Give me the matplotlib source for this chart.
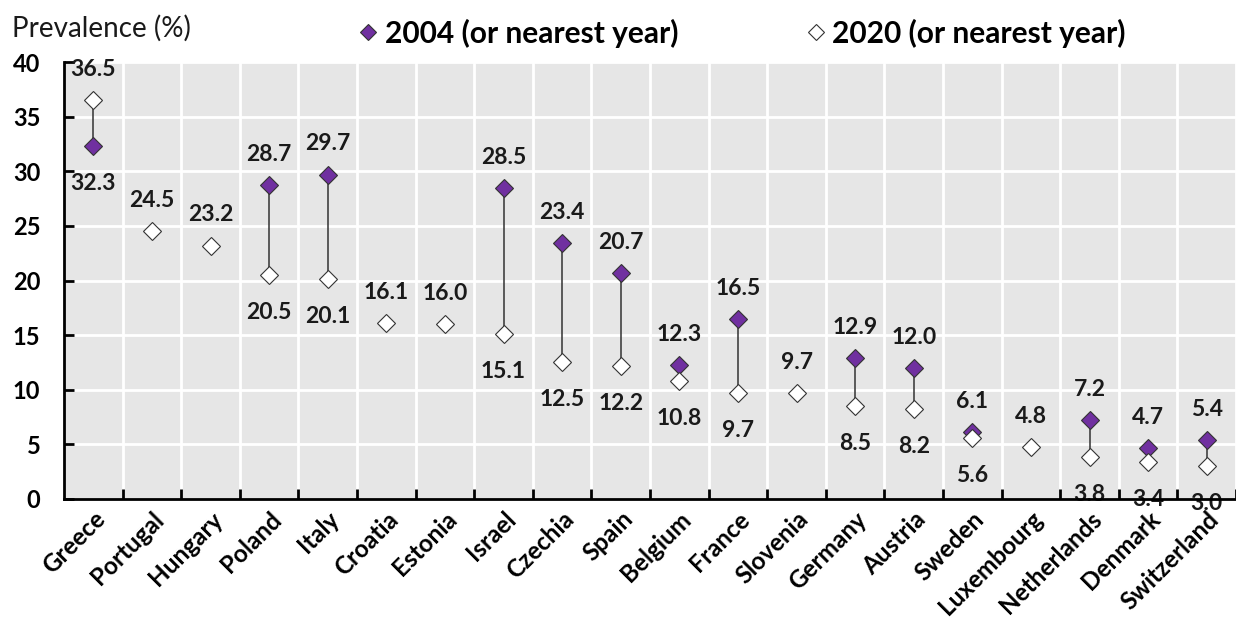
import matplotlib
matplotlib.use("Agg")
import matplotlib.pyplot as plt
import numpy as np

countries = ["Greece", "Portugal", "Hungary", "Poland", "Italy", "Croatia", "Estonia",
             "Israel", "Czechia", "Spain", "Belgium", "France", "Slovenia", "Germany",
             "Austria", "Sweden", "Luxembourg", "Netherlands", "Denmark", "Switzerland"]
v2004 = [32.3, None, None, 28.7, 29.7, None, None, 28.5, 23.4, 20.7, 12.3, 16.5, None,
         12.9, 12.0, 6.1, None, 7.2, 4.7, 5.4]
v2020 = [36.5, 24.5, 23.2, 20.5, 20.1, 16.1, 16.0, 15.1, 12.5, 12.2, 10.8, 9.7, 9.7,
         8.5, 8.2, 5.6, 4.8, 3.8, 3.4, 3.0]
yticks = [0, 5, 10, 15, 20, 25, 30, 35, 40]

FONT = "Lato"
plt.rcParams["font.family"] = [FONT, "DejaVu Sans"]

fig = plt.figure(figsize=(12.36, 6.23), dpi=100)
ax = fig.add_axes([64 / 1236, 1 - 499 / 623, 1 - 64 / 1236, (499 - 62) / 623])
ax.set_facecolor("#e6e6e6")

x = np.arange(len(countries))
purple = "#7030a0"
edge = "#333333"

# connectors
for i, (a, b) in enumerate(zip(v2004, v2020)):
    if a is not None:
        ax.plot([i, i], [min(a, b), max(a, b)], color="#333333", lw=1.1, zorder=2)

x04 = [i for i, a in enumerate(v2004) if a is not None]
y04 = [a for a in v2004 if a is not None]
l04, = ax.plot(x04, y04, linestyle="none", marker="D", markersize=9.5,
               markerfacecolor=purple, markeredgecolor=edge, markeredgewidth=0.8,
               zorder=3, label="2004 (or nearest year)")
l20, = ax.plot(x, v2020, linestyle="none", marker="D", markersize=9.5,
               markerfacecolor="white", markeredgecolor=edge, markeredgewidth=0.8,
               zorder=4, label="2020 (or nearest year)")

# value labels: higher value above, lower below
for i, (a, b) in enumerate(zip(v2004, v2020)):
    vals = [b] if a is None else [a, b]
    hi = max(vals)
    lo = min(vals)
    ax.annotate(f"{hi:.1f}", (i, hi), xytext=(0, 22), textcoords="offset points",
                ha="center", va="center", fontsize=16.5, fontweight="bold",
                color="#1a1a1a", zorder=5, annotation_clip=False)
    if len(vals) == 2:
        ax.annotate(f"{lo:.1f}", (i, lo), xytext=(0, -27), textcoords="offset points",
                    ha="center", va="center", fontsize=16.5, fontweight="bold",
                    color="#1a1a1a", zorder=5, annotation_clip=False)

ax.set_ylim(0, 40)
ax.set_xlim(-0.5, 19.33)
ax.set_yticks(yticks)
ax.set_yticklabels([str(t) for t in yticks], fontsize=17, fontweight="bold")
ax.set_xticks(x)
ax.set_xticklabels(countries, rotation=45, ha="right", rotation_mode="anchor",
                   fontsize=17.5, fontweight="bold")
ax.tick_params(axis="x", which="major", length=0, pad=6)
ax.set_xticks(np.arange(0.5, len(countries) - 0.4, 1), minor=True)
ax.tick_params(axis="x", which="minor", direction="in", length=7, width=2, color="black")
ax.tick_params(axis="y", direction="in", length=7, width=2, pad=17, color="black")

ax.grid(False)
for yy in yticks[1:]:
    ax.axhline(yy, color="white", lw=2, zorder=1)
for xx in np.arange(0.5, len(countries) - 0.4, 1):
    ax.axvline(xx, color="white", lw=2, zorder=1)

for s in ["top", "right"]:
    ax.spines[s].set_visible(False)
for s in ["left", "bottom"]:
    ax.spines[s].set_linewidth(2)
    ax.spines[s].set_color("black")
    ax.spines[s].set_zorder(6)

fig.text(12 / 1236, 1 - 28 / 623, "Prevalence (%)", fontsize=20, va="center", ha="left",
         color="#1a1a1a")

fig.legend(handles=[l04, l20], loc="center", bbox_to_anchor=(741 / 1236, 1 - 33 / 623),
           ncol=2, frameon=False, handletextpad=0.15, columnspacing=4.2,
           handlelength=0.8, prop={"family": FONT, "weight": "bold", "size": 21.5},
           markerscale=0.85)

fig.savefig("out.png", dpi=100)
